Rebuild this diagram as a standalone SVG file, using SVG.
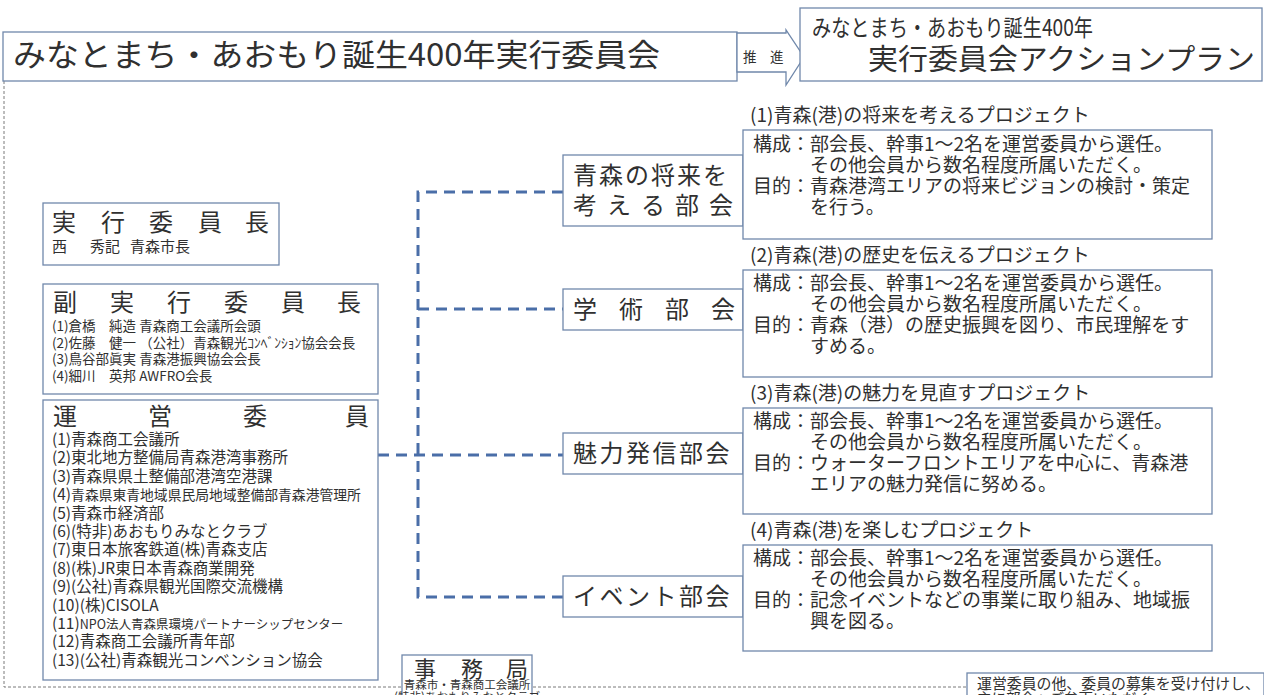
<svg xmlns="http://www.w3.org/2000/svg" width="1264" height="695" viewBox="0 0 1264 695">
<style>
text{font-family:"Noto Sans CJK JP","Noto Sans",sans-serif;fill:#303030}
.bx{fill:#fff;stroke:#7088ab;stroke-width:1.3}
.t33{font-size:31px}
.t23{font-size:24px}
.t24{font-size:24px}
.t19{font-size:19px}
.t15{font-size:15px}
.t14{font-size:15.5px}
.t13{font-size:13.5px}
.t12{font-size:11.5px}
.conn{fill:none;stroke:#4a6ea8;stroke-width:3;stroke-dasharray:11 7}
.frame{fill:none;stroke:#7a7a7a;stroke-width:1;stroke-dasharray:3 2}
</style>
<g id="frame"><path class="frame" d="M4,81 V687 H968"/></g>
<g id="connectors">
<path class="conn" d="M563,192 H418 V597 H563"/>
<path class="conn" d="M418,309 H563"/>
<path class="conn" d="M378,455 H563"/>
</g>
<g id="title"><rect class="bx" x="3" y="32" width="734" height="49"/>
<text class="t33" x="13" y="66" textLength="647" lengthAdjust="spacingAndGlyphs">みなとまち・あおもり誕生400年実行委員会</text></g>
<g id="arrow"><path class="bx" d="M737,33 H786 V30 L804,57 L786,85 V72 H737 Z"/>
<text class="t13" x="743" y="62">推</text><text class="t13" x="770" y="62">進</text></g>
<g id="plan"><rect class="bx" x="800" y="8" width="462" height="73"/>
<text x="812" y="36" style="font-size:23px" textLength="281" lengthAdjust="spacingAndGlyphs">みなとまち・あおもり誕生400年</text>
<text x="868" y="70" style="font-size:29px" textLength="387" lengthAdjust="spacingAndGlyphs">実行委員会アクションプラン</text></g>
<g id="chair"><rect class="bx" x="43" y="203" width="236" height="62"/>
<text class="t23" x="52 101 149 198 245" y="231">実行委員長</text>
<text class="t15" x="52" y="252">西</text><text class="t15" x="90" y="252">秀記</text><text class="t15" x="130" y="252">青森市長</text></g>
<g id="vice"><rect class="bx" x="43" y="284" width="335" height="110"/>
<text class="t23" x="53 110 167 224 281 337" y="311">副実行委員長</text>
<text class="t13" x="52" y="331">(1)倉橋　純造 青森商工会議所会頭</text>
<text class="t13" x="52" y="347.5">(2)佐藤　健一 （公社）青森観光ｺﾝﾍﾞﾝｼｮﾝ協会会長</text>
<text class="t13" x="52" y="364">(3)鳥谷部眞実 青森港振興協会会長</text>
<text class="t13" x="52" y="380.5">(4)細川　英邦 AWFRO会長</text></g>
<g id="steering"><rect class="bx" x="43" y="400" width="335" height="280"/>
<text class="t23" x="53 148 243 345" y="425">運営委員</text>
<text class="t14" x="52" y="445">(1)青森商工会議所</text>
<text class="t14" x="52" y="463.4">(2)東北地方整備局青森港湾事務所</text>
<text class="t14" x="52" y="481.8">(3)青森県県土整備部港湾空港課</text>
<text class="t14" x="52" y="500.2">(4)<tspan style="font-size:13.8px">青森県東青地域県民局地域整備部青森港管理所</tspan></text>
<text class="t14" x="52" y="518.6">(5)青森市経済部</text>
<text class="t14" x="52" y="537">(6)(特非)あおもりみなとクラブ</text>
<text class="t14" x="52" y="555.4">(7)東日本旅客鉄道(株)青森支店</text>
<text class="t14" x="52" y="573.8">(8)(株)JR東日本青森商業開発</text>
<text class="t14" x="52" y="592.2">(9)(公社)青森県観光国際交流機構</text>
<text class="t14" x="52" y="610.6">(10)(株)CISOLA</text>
<text class="t14" x="52" y="629">(11)<tspan style="font-size:12.5px">NPO法人青森県環境パートナーシップセンター</tspan></text>
<text class="t14" x="52" y="647.4">(12)青森商工会議所青年部</text>
<text class="t14" x="52" y="665.8">(13)(公社)青森観光コンベンション協会</text></g>
<g id="bukai1"><rect class="bx" x="563" y="155" width="180" height="71"/>
<text class="t24" x="573 599 625 651 677 703" y="184">青森の将来を</text>
<text class="t24" x="573 607 641 675 709" y="214">考える部会</text></g>
<g id="bukai2"><rect class="bx" x="563" y="289" width="180" height="41"/>
<text class="t24" x="573 619 665 711" y="318">学術部会</text></g>
<g id="bukai3"><rect class="bx" x="563" y="433" width="180" height="41"/>
<text class="t24" x="573 599.5 626 652.5 679 705.5" y="462">魅力発信部会</text></g>
<g id="bukai4"><rect class="bx" x="563" y="576" width="180" height="41"/>
<text class="t24" x="573 599.5 626 652.5 679 705.5" y="605">イベント部会</text></g>
<g id="proj1"><text class="t19" x="750" y="122">(1)青森(港)の将来を考えるプロジェクト</text>
<rect class="bx" x="743" y="130" width="469" height="109"/>
<text class="t19" x="753" y="151">構成：部会長、幹事1～2名を運営委員から選任。</text>
<text class="t19" x="810" y="172">その他会員から数名程度所属いただく。</text>
<text class="t19" x="753" y="193">目的：青森港湾エリアの将来ビジョンの検討・策定</text>
<text class="t19" x="810" y="214">を行う。</text></g>
<g id="proj2"><text class="t19" x="750" y="262">(2)青森(港)の歴史を伝えるプロジェクト</text>
<rect class="bx" x="743" y="270" width="469" height="107"/>
<text class="t19" x="753" y="290">構成：部会長、幹事1～2名を運営委員から選任。</text>
<text class="t19" x="810" y="311">その他会員から数名程度所属いただく。</text>
<text class="t19" x="753" y="332">目的：青森（港）の歴史振興を図り、市民理解をす</text>
<text class="t19" x="810" y="353">すめる。</text></g>
<g id="proj3"><text class="t19" x="750" y="400">(3)青森(港)の魅力を見直すプロジェクト</text>
<rect class="bx" x="743" y="408" width="469" height="106"/>
<text class="t19" x="753" y="428">構成：部会長、幹事1～2名を運営委員から選任。</text>
<text class="t19" x="810" y="449">その他会員から数名程度所属いただく。</text>
<text class="t19" x="753" y="470">目的：ウォーターフロントエリアを中心に、青森港</text>
<text class="t19" x="810" y="491">エリアの魅力発信に努める。</text></g>
<g id="proj4"><text class="t19" x="750" y="537">(4)青森(港)を楽しむプロジェクト</text>
<rect class="bx" x="743" y="545" width="469" height="106"/>
<text class="t19" x="753" y="565">構成：部会長、幹事1～2名を運営委員から選任。</text>
<text class="t19" x="810" y="586">その他会員から数名程度所属いただく。</text>
<text class="t19" x="753" y="607">目的：記念イベントなどの事業に取り組み、地域振</text>
<text class="t19" x="810" y="628">興を図る。</text></g>
<g id="jimukyoku"><rect class="bx" x="402" y="655" width="130" height="50"/>
<text style="font-size:22px" x="414 461 506" y="677">事務局</text>
<text class="t12" x="467" y="689" text-anchor="middle">青森市・青森商工会議所</text>
<text class="t12" x="467" y="701" text-anchor="middle">(特非)あおもりみなとクラブ</text></g>
<g id="note"><rect class="bx" x="967" y="673" width="297" height="35"/>
<text x="977" y="689" style="font-size:14.5px" textLength="283" lengthAdjust="spacingAndGlyphs">運営委員の他、委員の募集を受け付けし、</text>
<text x="977" y="704" style="font-size:14.5px">主に部会へご参画いただく</text></g>
</svg>
